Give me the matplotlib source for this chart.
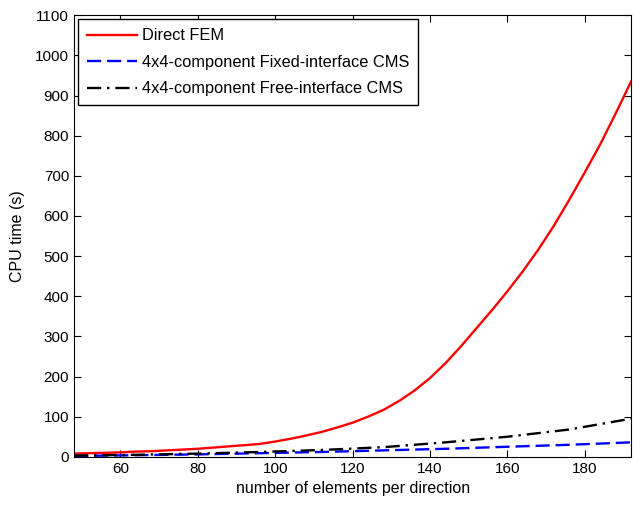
import numpy as np
import matplotlib.pyplot as plt

plt.rcParams['font.family'] = ['Liberation Sans', 'DejaVu Sans']

# elements per direction
n_elem = [48, 52, 56, 60, 64, 68, 72, 76, 80, 84, 88, 92, 96, 100, 104, 108, 112, 116,
          120, 124, 128, 132, 136, 140, 144, 148, 152, 156, 160, 164, 168, 172, 176,
          180, 184, 188, 192]
t_direct = [8, 9, 10, 11, 13, 14, 16, 18, 20, 23, 26, 29, 32, 38, 45, 53, 62, 73,
            85, 100, 117, 139, 165, 196, 233, 275, 320, 365, 412, 462, 516, 575, 640,
            708, 778, 855, 935]

n_cms = [48, 64, 80, 96, 112, 128, 144, 160, 176, 192]
t_fixed = [2, 4, 6, 9, 12, 16, 20, 25, 30, 36]
t_free = [3, 5, 8, 12, 17, 24, 36, 50, 68, 95]

labels = ["Direct FEM",
          "4x4-component Fixed-interface CMS",
          "4x4-component Free-interface CMS"]

fig = plt.figure(figsize=(6.33, 5.07), dpi=100)
ax = fig.add_axes([0.117, 0.099, 0.880, 0.871])

ax.plot(n_elem, t_direct, "-", color="red", lw=1.7, label=labels[0])
ax.plot(n_cms, t_fixed, "--", color="blue", lw=1.7, dashes=(6, 2.5), label=labels[1])
ax.plot(n_cms, t_free, "-.", color="black", lw=1.7, dashes=(6, 2.5, 1, 2.5), label=labels[2])

ax.set_xlim(48, 192)
ax.set_ylim(0, 1100)
ax.set_xticks(np.arange(60, 181, 20))
ax.set_yticks(np.arange(0, 1101, 100))
ax.tick_params(direction="in", top=True, right=True, labelsize=11, length=5)
ax.set_xlabel("number of elements per direction", fontsize=11.5)
ax.set_ylabel("CPU time (s)", fontsize=11.5, labelpad=7)

leg = ax.legend(loc="upper left", fontsize=11.8, handlelength=3.05, handletextpad=0.3,
                fancybox=False, edgecolor="black", framealpha=1, borderaxespad=0.25,
                labelspacing=0.7, borderpad=0.55)
leg.get_frame().set_linewidth(1)

fig.savefig("out.png", dpi=100)
